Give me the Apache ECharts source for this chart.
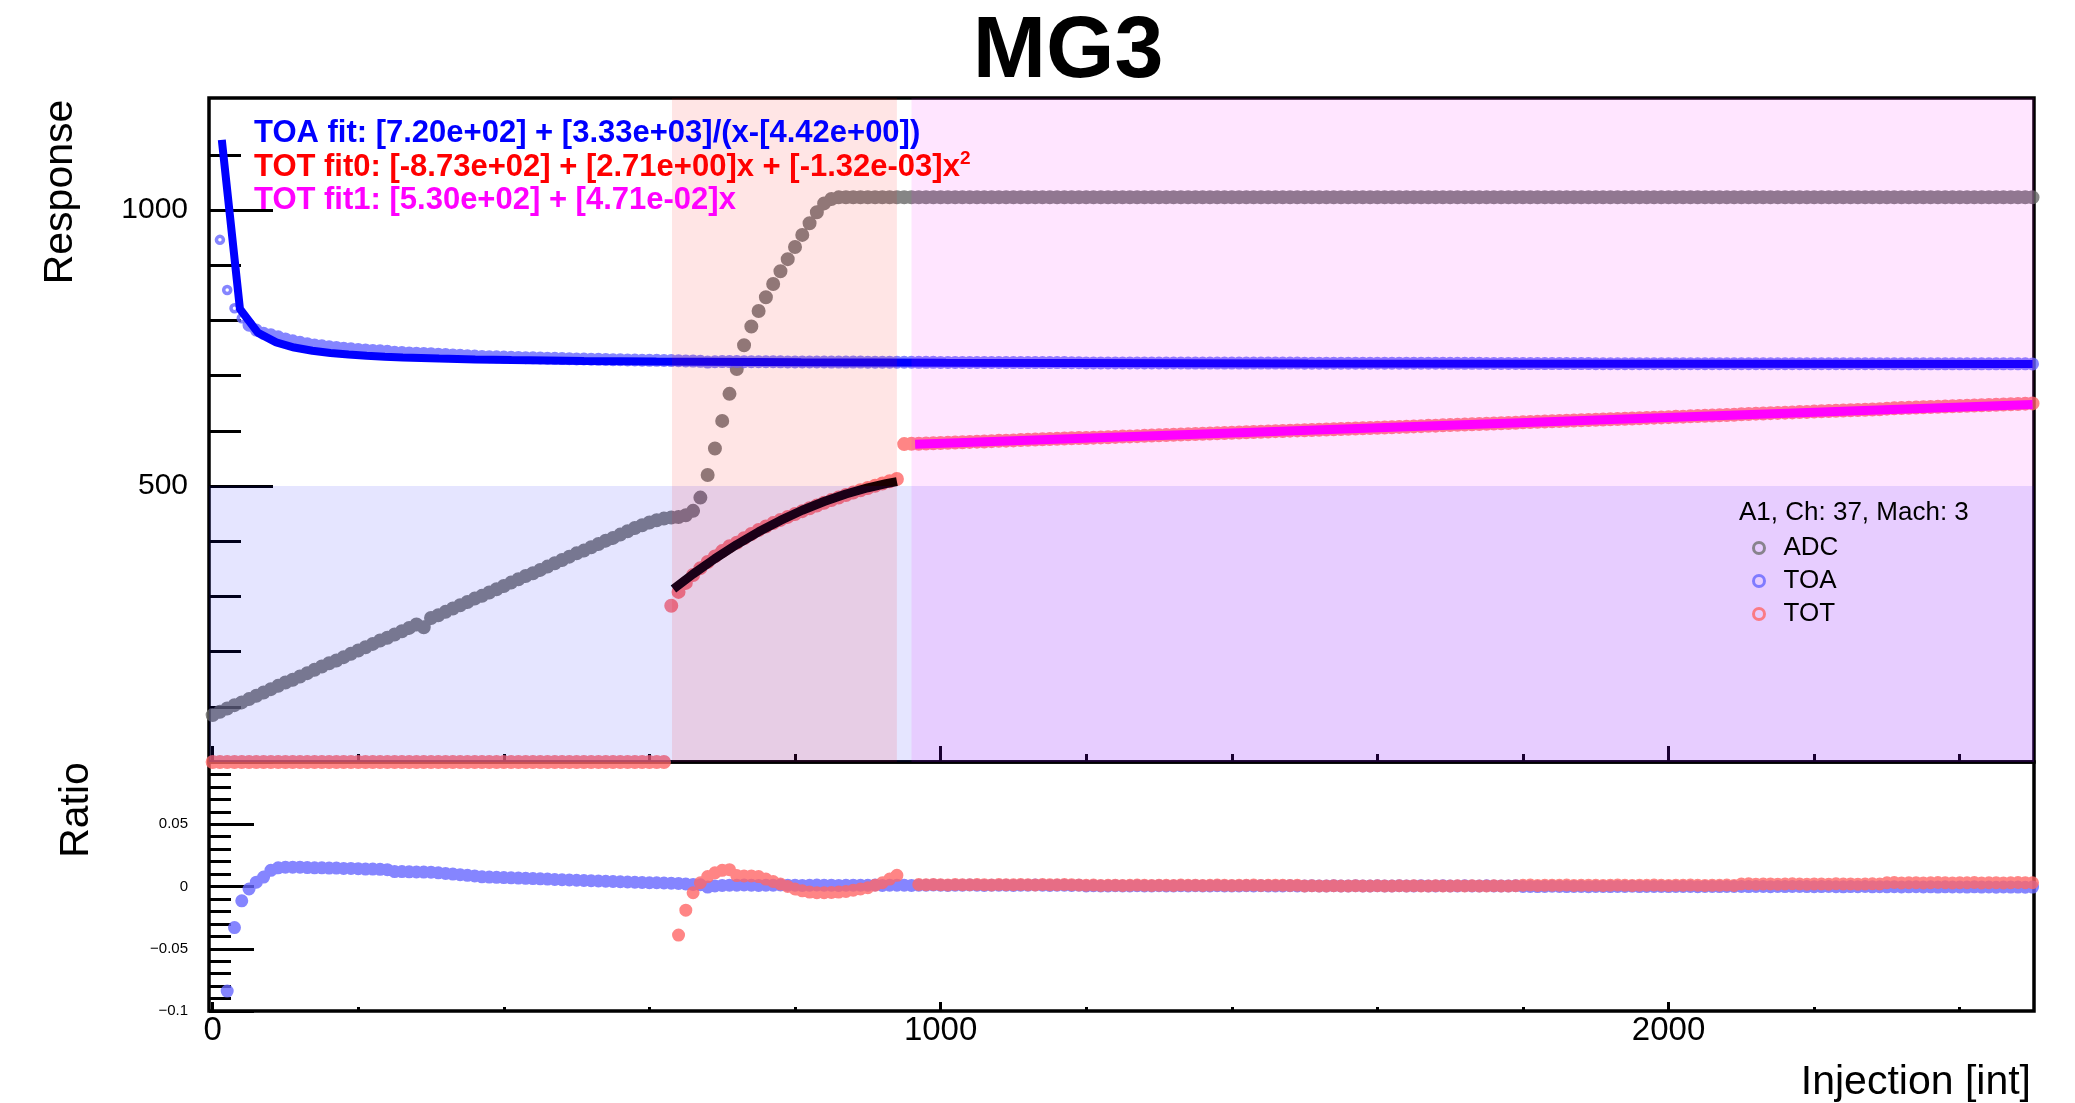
<!DOCTYPE html>
<html>
<head>
<meta charset="utf-8">
<title>MG3</title>
<script src="https://cdn.jsdelivr.net/npm/echarts@6/dist/echarts.min.js"></script>
<style>
html, body { margin: 0; padding: 0; background: #fff; }
#main { width: 2075px; height: 1103px; }
</style>
</head>
<body>
<div id="main"></div>
<script>
// MG3 injection scan: ADC / TOA / TOT response with fits, ratio panel below
var injection = [
  0, 10, 20, 30, 40, 50, 60, 70, 80, 90,
  100, 110, 120, 130, 140, 150, 160, 170, 180, 190,
  200, 210, 220, 230, 240, 250, 260, 270, 280, 290,
  300, 310, 320, 330, 340, 350, 360, 370, 380, 390,
  400, 410, 420, 430, 440, 450, 460, 470, 480, 490,
  500, 510, 520, 530, 540, 550, 560, 570, 580, 590,
  600, 610, 620, 630, 640, 650, 660, 670, 680, 690,
  700, 710, 720, 730, 740, 750, 760, 770, 780, 790,
  800, 810, 820, 830, 840, 850, 860, 870, 880, 890,
  900, 910, 920, 930, 940, 950, 960, 970, 980, 990,
  1000, 1010, 1020, 1030, 1040, 1050, 1060, 1070, 1080, 1090,
  1100, 1110, 1120, 1130, 1140, 1150, 1160, 1170, 1180, 1190,
  1200, 1210, 1220, 1230, 1240, 1250, 1260, 1270, 1280, 1290,
  1300, 1310, 1320, 1330, 1340, 1350, 1360, 1370, 1380, 1390,
  1400, 1410, 1420, 1430, 1440, 1450, 1460, 1470, 1480, 1490,
  1500, 1510, 1520, 1530, 1540, 1550, 1560, 1570, 1580, 1590,
  1600, 1610, 1620, 1630, 1640, 1650, 1660, 1670, 1680, 1690,
  1700, 1710, 1720, 1730, 1740, 1750, 1760, 1770, 1780, 1790,
  1800, 1810, 1820, 1830, 1840, 1850, 1860, 1870, 1880, 1890,
  1900, 1910, 1920, 1930, 1940, 1950, 1960, 1970, 1980, 1990,
  2000, 2010, 2020, 2030, 2040, 2050, 2060, 2070, 2080, 2090,
  2100, 2110, 2120, 2130, 2140, 2150, 2160, 2170, 2180, 2190,
  2200, 2210, 2220, 2230, 2240, 2250, 2260, 2270, 2280, 2290,
  2300, 2310, 2320, 2330, 2340, 2350, 2360, 2370, 2380, 2390,
  2400, 2410, 2420, 2430, 2440, 2450, 2460, 2470, 2480, 2490,
  2500
];

var adc = [
  85, 91, 97, 103, 108, 114, 120, 126, 132, 138,
  144, 149, 155, 161, 167, 173, 179, 184, 190, 196,
  202, 208, 214, 220, 225, 231, 237, 243, 249, 244,
  261, 266, 272, 278, 284, 290, 296, 301, 307, 313,
  319, 325, 331, 337, 342, 348, 354, 360, 366, 372,
  378, 383, 389, 395, 401, 406, 412, 418, 424, 429,
  434, 438, 441, 443, 444, 447, 455, 479, 520, 568,
  618, 667, 712, 755, 789, 817, 842, 866, 889, 911,
  933, 955, 976, 996, 1012, 1020, 1023, 1023, 1023, 1023,
  1023, 1023, 1023, 1023, 1023, 1023, 1023, 1023, 1023, 1023,
  1023, 1023, 1023, 1023, 1023, 1023, 1023, 1023, 1023, 1023,
  1023, 1023, 1023, 1023, 1023, 1023, 1023, 1023, 1023, 1023,
  1023, 1023, 1023, 1023, 1023, 1023, 1023, 1023, 1023, 1023,
  1023, 1023, 1023, 1023, 1023, 1023, 1023, 1023, 1023, 1023,
  1023, 1023, 1023, 1023, 1023, 1023, 1023, 1023, 1023, 1023,
  1023, 1023, 1023, 1023, 1023, 1023, 1023, 1023, 1023, 1023,
  1023, 1023, 1023, 1023, 1023, 1023, 1023, 1023, 1023, 1023,
  1023, 1023, 1023, 1023, 1023, 1023, 1023, 1023, 1023, 1023,
  1023, 1023, 1023, 1023, 1023, 1023, 1023, 1023, 1023, 1023,
  1023, 1023, 1023, 1023, 1023, 1023, 1023, 1023, 1023, 1023,
  1023, 1023, 1023, 1023, 1023, 1023, 1023, 1023, 1023, 1023,
  1023, 1023, 1023, 1023, 1023, 1023, 1023, 1023, 1023, 1023,
  1023, 1023, 1023, 1023, 1023, 1023, 1023, 1023, 1023, 1023,
  1023, 1023, 1023, 1023, 1023, 1023, 1023, 1023, 1023, 1023,
  1023, 1023, 1023, 1023, 1023, 1023, 1023, 1023, 1023, 1023,
  1023
];

var toa = [
  null, 946, 855, 822, 804, 791.5, 782.6, 776.6, 774.0, 770.3,
  766.5, 763.2, 760.4, 757.9, 755.7, 754.0, 752.4, 751.1, 749.7, 748.6,
  747.5, 746.5, 745.7, 744.9, 744.0, 742.4, 741.8, 741.2, 740.7, 740.2,
  739.7, 738.9, 738.3, 737.5, 736.8, 736.2, 735.6, 734.8, 734.4, 734.0,
  733.6, 733.3, 733.0, 732.6, 732.3, 732.0, 731.7, 731.3, 730.9, 730.7,
  730.3, 730.1, 729.8, 729.5, 729.3, 729.0, 728.8, 728.5, 728.3, 728.0,
  727.8, 727.7, 727.4, 727.2, 727.0, 726.6, 726.3, 726.0, 724.5, 725.2,
  725.5, 725.4, 725.4, 725.3, 725.2, 725.2, 725.1, 725.1, 725.0, 724.9,
  724.9, 724.8, 724.8, 724.7, 724.7, 724.6, 724.6, 724.5, 724.5, 724.5,
  724.4, 724.4, 724.3, 724.3, 724.3, 724.2, 724.2, 724.1, 724.1, 724.1,
  724.0, 724.0, 724.0, 723.9, 723.9, 723.9, 723.9, 723.8, 723.8, 723.8,
  723.7, 723.7, 723.7, 723.7, 723.6, 723.6, 723.6, 723.6, 723.5, 723.5,
  723.1, 723.1, 723.1, 723.1, 723.1, 723.0, 723.0, 723.0, 723.0, 723.0,
  722.9, 722.9, 722.9, 722.9, 722.8, 722.8, 722.8, 722.8, 722.8, 722.8,
  722.7, 722.7, 722.7, 722.7, 722.7, 722.7, 722.7, 722.7, 722.7, 722.7,
  722.6, 722.6, 722.6, 722.6, 722.6, 722.6, 722.6, 722.6, 722.6, 722.6,
  722.5, 722.5, 722.5, 722.5, 722.5, 722.5, 722.5, 722.5, 722.5, 722.5,
  722.3, 722.3, 722.3, 722.3, 722.3, 722.2, 722.2, 722.2, 722.2, 722.2,
  721.8, 721.8, 721.8, 721.8, 721.8, 721.8, 721.8, 721.8, 721.8, 721.8,
  721.7, 721.7, 721.7, 721.7, 721.7, 721.7, 721.7, 721.7, 721.7, 721.7,
  721.7, 721.7, 721.7, 721.7, 721.7, 721.7, 721.7, 721.7, 721.7, 721.7,
  721.6, 721.6, 721.6, 721.6, 721.6, 721.6, 721.6, 721.6, 721.6, 721.6,
  721.5, 721.5, 721.5, 721.5, 721.5, 721.5, 721.5, 721.5, 721.5, 721.5,
  721.4, 721.4, 721.4, 721.4, 721.4, 721.4, 721.4, 721.4, 721.4, 721.4,
  721.4, 721.4, 721.4, 721.4, 721.4, 721.4, 721.4, 721.4, 721.4, 721.4,
  721.3
];

var tot = [
  0, 0, 0, 0, 0, 0, 0, 0, 0, 0,
  0, 0, 0, 0, 0, 0, 0, 0, 0, 0,
  0, 0, 0, 0, 0, 0, 0, 0, 0, 0,
  0, 0, 0, 0, 0, 0, 0, 0, 0, 0,
  0, 0, 0, 0, 0, 0, 0, 0, 0, 0,
  0, 0, 0, 0, 0, 0, 0, 0, 0, 0,
  0, 0, 0, 283, 308.2, 324.5, 338.9, 351.2, 362.3, 372.5,
  382.1, 390.9, 397.2, 405.3, 413.1, 420.3, 426.7, 432.8, 438.6, 444.1,
  449.3, 454.5, 459.6, 464.6, 469.6, 474.5, 479.2, 483.7, 488.1, 492.3,
  496.3, 500.5, 504.5, 508.7, 512.6, 576.0, 576.5, 576.6, 577.1, 577.5,
  578.0, 578.5, 578.9, 579.4, 579.9, 580.4, 580.8, 581.3, 581.8, 582.2,
  582.7, 583.2, 583.7, 584.1, 584.6, 585.1, 585.5, 586.0, 586.5, 586.9,
  587.1, 587.6, 588.1, 588.5, 589.0, 589.5, 589.9, 590.4, 590.9, 591.4,
  591.8, 592.3, 592.8, 593.2, 593.7, 594.2, 594.7, 595.1, 595.6, 596.1,
  596.5, 597.0, 597.5, 598.0, 598.4, 598.9, 599.4, 599.8, 600.3, 600.8,
  601.0, 601.4, 601.9, 602.4, 602.8, 603.3, 603.8, 604.2, 604.7, 605.2,
  605.7, 606.1, 606.6, 607.1, 607.5, 608.0, 608.5, 609.0, 609.4, 609.9,
  610.4, 610.8, 611.3, 611.8, 612.3, 612.7, 613.2, 613.7, 614.1, 614.6,
  615.4, 615.9, 616.3, 616.8, 617.3, 617.7, 618.2, 618.7, 619.1, 619.6,
  620.1, 620.6, 621.0, 621.5, 622.0, 622.4, 622.9, 623.4, 623.9, 624.3,
  624.8, 625.3, 625.7, 626.2, 626.7, 627.2, 627.6, 628.1, 628.6, 629.0,
  630.1, 630.6, 631.1, 631.5, 632.0, 632.5, 632.9, 633.4, 633.9, 634.3,
  634.8, 635.3, 635.8, 636.2, 636.7, 637.2, 637.6, 638.1, 638.6, 639.1,
  640.2, 640.7, 641.2, 641.6, 642.1, 642.6, 643.1, 643.5, 644.0, 644.5,
  644.9, 645.4, 645.9, 646.4, 646.8, 647.3, 647.8, 648.2, 648.7, 649.2,
  649.7
];

var ratioToa = [
  null, null, -0.084, -0.033, -0.0115, -0.002, 0.0035, 0.0076, 0.013, 0.015,
  0.0155, 0.0155, 0.0155, 0.0152, 0.015, 0.015, 0.0148, 0.0148, 0.0145, 0.0145,
  0.0143, 0.014, 0.014, 0.0138, 0.0135, 0.012, 0.012, 0.0118, 0.0117, 0.0116,
  0.0115, 0.011, 0.0105, 0.010, 0.0095, 0.009, 0.0085, 0.0078, 0.0076, 0.0074,
  0.0072, 0.007, 0.0068, 0.0066, 0.0064, 0.0062, 0.006, 0.0056, 0.0054, 0.0052,
  0.005, 0.0048, 0.0046, 0.0044, 0.0042, 0.004, 0.0038, 0.0036, 0.0034, 0.0032,
  0.003, 0.003, 0.0028, 0.0026, 0.0024, 0.002, 0.0016, 0.0014, -0.0005, 0.0005,
  0.0009, 0.0011, 0.001, 0.0012, 0.001, 0.0009, 0.0011, 0.001, 0.0012, 0.001,
  0.0011, 0.0009, 0.001, 0.0012, 0.001, 0.0011, 0.0009, 0.001, 0.0011, 0.001,
  0.001, 0.0012, 0.0009, 0.001, 0.0011, 0.001, 0.0009, 0.0011, 0.001, 0.0012,
  0.001, 0.0009, 0.0011, 0.001, 0.0012, 0.001, 0.0009, 0.001, 0.0011, 0.001,
  0.0009, 0.0011, 0.001, 0.0012, 0.001, 0.0009, 0.0011, 0.001, 0.0009, 0.001,
  0.0005, 0.0006, 0.0004, 0.0005, 0.0007, 0.0005, 0.0004, 0.0006, 0.0005, 0.0004,
  0.0006, 0.0005, 0.0004, 0.0006, 0.0005, 0.0007, 0.0005, 0.0004, 0.0006, 0.0005,
  0.0005, 0.0004, 0.0006, 0.0005, 0.0007, 0.0005, 0.0004, 0.0005, 0.0006, 0.0005,
  0.0004, 0.0006, 0.0005, 0.0005, 0.0007, 0.0004, 0.0005, 0.0006, 0.0005, 0.0004,
  0.0006, 0.0005, 0.0004, 0.0006, 0.0005, 0.0005, 0.0007, 0.0004, 0.0005, 0.0006,
  0.0005, 0.0004, 0.0006, 0.0005, 0.0004, 0.0006, 0.0005, 0.0005, 0.0004, 0.0006,
  0.0, 0.0001, -0.0001, 0.0, 0.0002, 0.0, -0.0001, 0.0001, 0.0, -0.0002,
  0.0001, 0.0, -0.0001, 0.0001, 0.0, 0.0002, -0.0001, 0.0, 0.0001, 0.0,
  -0.0001, 0.0, 0.0001, 0.0, -0.0002, 0.0, 0.0001, -0.0001, 0.0, 0.0001,
  0.0, -0.0001, 0.0, 0.0001, -0.0002, 0.0, -0.0001, 0.0, 0.0001, -0.0001,
  -0.0002, -0.0001, 0.0, -0.0002, -0.0003, -0.0001, -0.0002, 0.0, -0.0003, -0.0002,
  -0.0003, -0.0002, -0.0004, -0.0003, -0.0002, -0.0004, -0.0003, -0.0005, -0.0003, -0.0004,
  -0.0004, -0.0005, -0.0003, -0.0005, -0.0004, -0.0006, -0.0004, -0.0005, -0.0005, -0.0006,
  -0.0005
];

var ratioTot = [
  null, null, null, null, null, null, null, null, null, null,
  null, null, null, null, null, null, null, null, null, null,
  null, null, null, null, null, null, null, null, null, null,
  null, null, null, null, null, null, null, null, null, null,
  null, null, null, null, null, null, null, null, null, null,
  null, null, null, null, null, null, null, null, null, null,
  null, null, null, null, -0.039, -0.019, -0.005, 0.003, 0.008, 0.011,
  0.013, 0.0135, 0.0088, 0.0085, 0.0085, 0.008, 0.006, 0.004, 0.002, 0.0,
  -0.002, -0.0035, -0.0045, -0.005, -0.005, -0.0048, -0.0045, -0.004, -0.003, -0.002,
  -0.001, 0.001, 0.003, 0.006, 0.009, null, null, 0.0016, 0.0014, 0.0017,
  0.0015, 0.0013, 0.0016, 0.0015, 0.0014, 0.0017, 0.0015, 0.0013, 0.0016, 0.0015,
  0.0014, 0.0016, 0.0015, 0.0013, 0.0016, 0.0015, 0.0014, 0.0016, 0.0015, 0.0013,
  0.001, 0.0012, 0.0009, 0.001, 0.0011, 0.0009, 0.001, 0.0012, 0.001, 0.0009,
  0.0011, 0.001, 0.0009, 0.0012, 0.001, 0.0011, 0.0009, 0.001, 0.0012, 0.001,
  0.0009, 0.0011, 0.001, 0.0012, 0.0009, 0.001, 0.0011, 0.001, 0.0009, 0.0011,
  0.0005, 0.0007, 0.0004, 0.0005, 0.0006, 0.0004, 0.0005, 0.0007, 0.0005, 0.0004,
  0.0006, 0.0005, 0.0004, 0.0006, 0.0005, 0.0007, 0.0004, 0.0005, 0.0006, 0.0005,
  0.0004, 0.0006, 0.0005, 0.0007, 0.0005, 0.0004, 0.0006, 0.0005, 0.0004, 0.0006,
  0.001, 0.0012, 0.0009, 0.001, 0.0011, 0.001, 0.0012, 0.0009, 0.001, 0.0011,
  0.001, 0.0009, 0.0011, 0.0012, 0.001, 0.0009, 0.0011, 0.001, 0.0012, 0.001,
  0.0009, 0.0011, 0.001, 0.0012, 0.001, 0.0009, 0.0011, 0.001, 0.0012, 0.0009,
  0.002, 0.0022, 0.0019, 0.002, 0.0021, 0.0019, 0.002, 0.0022, 0.002, 0.0019,
  0.0021, 0.002, 0.0019, 0.0022, 0.002, 0.0021, 0.0019, 0.002, 0.0022, 0.002,
  0.003, 0.0032, 0.0029, 0.003, 0.0031, 0.0029, 0.003, 0.0032, 0.003, 0.0029,
  0.0031, 0.003, 0.0032, 0.0029, 0.003, 0.0031, 0.0029, 0.003, 0.0032, 0.0031,
  0.003
];

// fit curves as drawn (sampled points along each TF1)
var toaFitX = [12.6, 37.5, 62.4, 87.3, 112.1, 137.0, 161.9, 186.7, 211.6, 236.5, 261.3, 311.1, 360.8, 410.5, 510.0, 609.5, 808.4, 1007.4, 1505, 2002, 2500];
var toaFitY = [1127.1, 820.7, 777.4, 760.2, 750.9, 745.1, 741.1, 738.3, 736.1, 734.3, 733.0, 730.9, 729.3, 728.2, 726.6, 725.5, 724.1, 723.3, 722.2, 721.7, 721.3];
var totFit0X = [633, 660, 690, 720, 750, 780, 810, 840, 870, 900, 925, 940];
var totFit0Y = [313.5, 340.6, 368.5, 393.9, 417.0, 437.7, 456.1, 472.0, 485.6, 496.8, 504.3, 508.1];
var totFit1X = [965, 2500];
var totFit1Y = [575.5, 647.8];

// shaded ranges: [x0, x1, y0, y1]
var boxLow = [-5, 2502, 0, 500];
var boxFit0 = [631, 940, 0, 1203];
var boxFit1 = [960, 2502, 0, 1203];

var xMajor = [0, 1000, 2000];
var xMinor = [200, 400, 600, 800, 1200, 1400, 1600, 1800, 2200, 2400];
var yMajor = [0, 500, 1000];
var yMinor = [100, 200, 300, 400, 600, 700, 800, 900, 1100];
var yLabels = [500, 1000];
var rMajor = [-0.1, -0.05, 0, 0.05, 0.1];
var rMinor = [-0.09, -0.08, -0.07, -0.06, -0.04, -0.03, -0.02, -0.01, 0.01, 0.02, 0.03, 0.04, 0.06, 0.07, 0.08, 0.09];
var rLabels = [-0.1, -0.05, 0, 0.05];

var FONT = '"Liberation Sans", Arial, Helvetica, sans-serif';

function pairs(xs, ys) {
  var out = [];
  for (var i = 0; i < xs.length; i++) {
    if (ys[i] !== null && ys[i] !== undefined) out.push([xs[i], ys[i]]);
  }
  return out;
}
function area(b, color) {
  return [{ xAxis: b[0], yAxis: b[2], itemStyle: { color: color } }, { xAxis: b[1], yAxis: b[3] }];
}
function plain(v) { return String(v); }
function signed(v) { return v === 0 ? '0' : (v < 0 ? '\u2212' : '') + Math.abs(v); }

var toaPts = pairs(injection, toa);

var tickStyle = { color: '#000', width: 3 };
function xAx(grid, ticks, len, labels) {
  return {
    type: 'value', gridIndex: grid, min: -5, max: 2502, position: 'bottom',
    axisLine: { show: false, onZero: false },
    splitLine: { show: false },
    axisTick: { show: true, inside: true, length: len, customValues: ticks, lineStyle: tickStyle },
    axisLabel: labels ? { show: true, customValues: labels, fontSize: 33, fontFamily: FONT, color: '#000', margin: 3, formatter: plain } : { show: false }
  };
}
function yAx(grid, min, max, ticks, len, labels, size, fmt) {
  return {
    type: 'value', gridIndex: grid, min: min, max: max, position: 'left',
    axisLine: { show: false, onZero: false },
    splitLine: { show: false },
    axisTick: { show: true, inside: true, length: len, customValues: ticks, lineStyle: tickStyle },
    axisLabel: labels ? { show: true, customValues: labels, fontSize: size, fontFamily: FONT, color: '#000', margin: 21, formatter: fmt } : { show: false }
  };
}

var chart = echarts.init(document.getElementById('main'));
var option = {
  backgroundColor: '#fff',
  animation: false,
  grid: [
    { left: 209, top: 98, width: 1825, height: 664, show: true, borderColor: '#000', borderWidth: 3.5, backgroundColor: 'transparent' },
    { left: 209, top: 762, width: 1825, height: 249, show: true, borderColor: '#000', borderWidth: 3.5, backgroundColor: 'transparent' }
  ],
  xAxis: [
    xAx(0, xMajor, 16, null),
    xAx(0, xMinor, 8, null),
    xAx(1, xMajor, 9, xMajor),
    xAx(1, xMinor, 4, null)
  ],
  yAxis: [
    yAx(0, 0, 1203, yMajor, 64, yLabels, 30, plain),
    yAx(0, 0, 1203, yMinor, 32, null),
    yAx(1, -0.1, 0.1, rMajor, 45, rLabels, 15, signed),
    yAx(1, -0.1, 0.1, rMinor, 22, null)
  ],
  legend: {
    orient: 'vertical', left: 1747, top: 530, itemWidth: 11, itemHeight: 11, itemGap: 7, z: 20,
    selectedMode: false, icon: 'circle',
    textStyle: { fontSize: 26, fontFamily: FONT, color: '#000', padding: [0, 0, 0, 14] },
    data: [
      { name: 'ADC', itemStyle: { color: 'rgba(0,0,0,0)', borderColor: '#707070', borderWidth: 3 } },
      { name: 'TOA', itemStyle: { color: 'rgba(0,0,0,0)', borderColor: '#6666ff', borderWidth: 3 } },
      { name: 'TOT', itemStyle: { color: 'rgba(0,0,0,0)', borderColor: '#ff6666', borderWidth: 3 } }
    ]
  },
  graphic: [
    { type: 'text', x: 1068, y: 53, z: 20, style: { text: 'MG3', font: 'bold 88px ' + FONT, fill: '#000', align: 'center', verticalAlign: 'middle' } },
    { type: 'text', x: 254, y: 133, z: 20, style: { text: 'TOA fit: [7.20e+02] + [3.33e+03]/(x-[4.42e+00])', font: 'bold 31px ' + FONT, fill: '#0000ff', align: 'left', verticalAlign: 'middle' } },
    { type: 'text', x: 254, y: 167, z: 20, style: {
      text: '{t|TOT fit0: [-8.73e+02] + [2.71e+00]x + [-1.32e-03]x}{s|2}', align: 'left', verticalAlign: 'middle',
      rich: {
        t: { font: 'bold 31px ' + FONT, fill: '#ff0000', lineHeight: 36 },
        s: { font: 'bold 19px ' + FONT, fill: '#ff0000', lineHeight: 20, verticalAlign: 'top' }
      } } },
    { type: 'text', x: 254, y: 200, z: 20, style: { text: 'TOT fit1: [5.30e+02] + [4.71e-02]x', font: 'bold 31px ' + FONT, fill: '#ff00ff', align: 'left', verticalAlign: 'middle' } },
    { type: 'text', x: 1739, y: 513, z: 20, style: { text: 'A1, Ch: 37, Mach: 3', font: '26px ' + FONT, fill: '#000', align: 'left', verticalAlign: 'middle' } },
    { type: 'text', x: 61, y: 192, rotation: Math.PI / 2, style: { text: 'Response', font: '41px ' + FONT, fill: '#000', align: 'center', verticalAlign: 'middle' } },
    { type: 'text', x: 77, y: 810, rotation: Math.PI / 2, style: { text: 'Ratio', font: '41px ' + FONT, fill: '#000', align: 'center', verticalAlign: 'middle' } },
    { type: 'text', x: 2031, y: 1083, style: { text: 'Injection [int]', font: '41px ' + FONT, fill: '#000', align: 'right', verticalAlign: 'middle' } }
  ],
  series: [
    {
      type: 'scatter', name: 'ADC', xAxisIndex: 0, yAxisIndex: 0, z: 3,
      large: true, largeThreshold: 1, symbol: 'circle', symbolSize: 14,
      itemStyle: { color: '#666666' },
      data: pairs(injection, adc)
    },
    {
      type: 'scatter', name: 'TOA', xAxisIndex: 0, yAxisIndex: 0, z: 3,
      symbol: 'circle', symbolSize: 7,
      itemStyle: { color: 'rgba(0,0,0,0)', borderColor: '#6666ff', borderWidth: 3.5 },
      data: toaPts.slice(0, 4)
    },
    {
      type: 'scatter', name: 'TOA', xAxisIndex: 0, yAxisIndex: 0, z: 3,
      large: true, largeThreshold: 1, symbol: 'circle', symbolSize: 13,
      itemStyle: { color: '#6666ff' },
      data: toaPts.slice(4)
    },
    {
      type: 'scatter', name: 'TOT', xAxisIndex: 0, yAxisIndex: 0, z: 3,
      large: true, largeThreshold: 1, symbol: 'circle', symbolSize: 14,
      itemStyle: { color: '#ff6666' },
      data: pairs(injection, tot)
    },
    {
      type: 'line', name: 'TOA fit', xAxisIndex: 0, yAxisIndex: 0, z: 5, showSymbol: false, silent: true,
      lineStyle: { color: '#0000ff', width: 8 },
      data: pairs(toaFitX, toaFitY)
    },
    {
      type: 'line', name: 'TOT fit0', xAxisIndex: 0, yAxisIndex: 0, z: 5, showSymbol: false, silent: true,
      lineStyle: { color: '#000000', width: 9 },
      data: pairs(totFit0X, totFit0Y)
    },
    {
      type: 'line', name: 'TOT fit1', xAxisIndex: 0, yAxisIndex: 0, z: 5, showSymbol: false, silent: true,
      lineStyle: { color: '#ff00ff', width: 9 },
      data: pairs(totFit1X, totFit1Y)
    },
    {
      // translucent ranges drawn over the markers, as in the original canvas
      type: 'line', name: 'regions', xAxisIndex: 0, yAxisIndex: 0, data: [], z: 10, silent: true,
      markArea: {
        silent: true, z: 10,
        data: [
          area(boxLow, 'rgba(0,0,255,0.1)'),
          area(boxFit0, 'rgba(255,0,0,0.1)'),
          area(boxFit1, 'rgba(255,0,255,0.1)')
        ]
      }
    },
    {
      type: 'scatter', name: 'TOA ratio', xAxisIndex: 2, yAxisIndex: 2, z: 3,
      large: true, largeThreshold: 1, symbol: 'circle', symbolSize: 13,
      itemStyle: { color: '#6666ff' },
      data: pairs(injection, ratioToa)
    },
    {
      type: 'scatter', name: 'TOT ratio', xAxisIndex: 2, yAxisIndex: 2, z: 4,
      large: true, largeThreshold: 1, symbol: 'circle', symbolSize: 13,
      itemStyle: { color: '#ff6666' },
      data: pairs(injection, ratioTot)
    }
  ]
};
chart.setOption(option);
</script>
</body>
</html>
